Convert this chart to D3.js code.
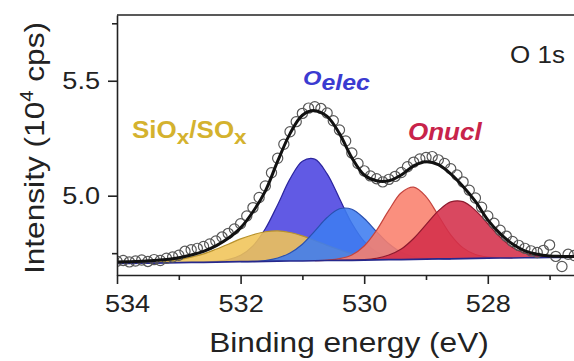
<!DOCTYPE html>
<html>
<head>
<meta charset="utf-8">
<script src="https://cdn.jsdelivr.net/npm/d3@7"></script>
<style>
  html, body { margin: 0; padding: 0; background: #fff; }
  svg { display: block; }
</style>
</head>
<body>
<svg id="chart" width="574" height="361"></svg>
<script>
// ---- O 1s spectrum: binding energy grid used by the fit (eV) ----
const fitEnergy = [534.0, 533.8, 533.6, 533.4, 533.2, 533.0, 532.8, 532.6, 532.4, 532.2,
                   532.0, 531.8, 531.6, 531.4, 531.2, 531.0, 530.8, 530.6, 530.4, 530.2,
                   530.0, 529.8, 529.6, 529.4, 529.2, 529.0, 528.8, 528.6, 528.4, 528.2,
                   528.0, 527.8, 527.6, 527.4, 527.2, 527.0, 526.8, 526.6];

// background under the fitted peaks (10^4 cps)
const background = [4.705, 4.706, 4.707, 4.707, 4.708, 4.709, 4.710, 4.710, 4.711, 4.712,
                    4.713, 4.713, 4.714, 4.715, 4.716, 4.716, 4.717, 4.718, 4.719, 4.719,
                    4.720, 4.721, 4.722, 4.722, 4.723, 4.724, 4.725, 4.725, 4.726, 4.727,
                    4.728, 4.729, 4.729, 4.730, 4.731, 4.732, 4.732, 4.733];

// fitted components, height above background (10^4 cps)
const siOxComponent = [0.000, 0.001, 0.002, 0.003, 0.007, 0.013, 0.023, 0.037, 0.056, 0.077,
                       0.099, 0.117, 0.129, 0.132, 0.124, 0.109, 0.088, 0.066, 0.046, 0.029,
                       0.018, 0.010, 0.005, 0.002, 0.001, 0, 0, 0, 0, 0,
                       0, 0, 0, 0, 0, 0, 0, 0];
const oElecComponentA = [0, 0, 0, 0, 0, 0, 0, 0.001, 0.003, 0.010,
                         0.028, 0.069, 0.142, 0.246, 0.357, 0.434, 0.442, 0.377, 0.269, 0.161,
                         0.081, 0.034, 0.012, 0.004, 0.001, 0, 0, 0, 0, 0,
                         0, 0, 0, 0, 0, 0, 0, 0];
const oElecComponentB = [0, 0, 0, 0, 0, 0, 0, 0, 0, 0,
                         0, 0.001, 0.004, 0.014, 0.035, 0.073, 0.129, 0.187, 0.224, 0.222,
                         0.181, 0.123, 0.069, 0.032, 0.012, 0.004, 0.001, 0, 0, 0,
                         0, 0, 0, 0, 0, 0, 0, 0];
const oNuclComponentA = [0, 0, 0, 0, 0, 0, 0, 0, 0, 0,
                         0, 0, 0, 0, 0, 0, 0, 0.002, 0.007, 0.023,
                         0.061, 0.128, 0.215, 0.291, 0.314, 0.272, 0.189, 0.105, 0.047, 0.017,
                         0.005, 0.001, 0, 0, 0, 0, 0, 0];
const oNuclComponentB = [0, 0, 0, 0, 0, 0, 0, 0, 0, 0,
                         0, 0, 0, 0, 0, 0, 0, 0, 0, 0.001,
                         0.002, 0.007, 0.020, 0.046, 0.091, 0.150, 0.209, 0.248, 0.248, 0.209,
                         0.150, 0.091, 0.046, 0.020, 0.007, 0.002, 0, 0];

// total fit envelope (10^4 cps)
const fitEnvelope = [4.712, 4.713, 4.715, 4.718, 4.722, 4.730, 4.742, 4.758, 4.782, 4.815,
                     4.860, 4.930, 5.020, 5.150, 5.270, 5.350, 5.370, 5.345, 5.270, 5.165,
                     5.090, 5.065, 5.065, 5.090, 5.130, 5.148, 5.135, 5.095, 5.040, 4.975,
                     4.895, 4.835, 4.790, 4.760, 4.745, 4.738, 4.736, 4.735];

// measured points
const dataEnergy = [534.0, 533.9, 533.8, 533.7, 533.6, 533.5, 533.4, 533.3, 533.2, 533.1,
                    533.0, 532.9, 532.8, 532.7, 532.6, 532.5, 532.4, 532.3, 532.2, 532.1,
                    532.0, 531.9, 531.8, 531.7, 531.6, 531.5, 531.4, 531.3, 531.2, 531.1,
                    531.0, 530.9, 530.8, 530.7, 530.6, 530.5, 530.4, 530.3, 530.2, 530.1,
                    530.0, 529.9, 529.8, 529.7, 529.6, 529.5, 529.4, 529.3, 529.2, 529.1,
                    529.0, 528.9, 528.8, 528.7, 528.6, 528.5, 528.4, 528.3, 528.2, 528.1,
                    528.0, 527.9, 527.8, 527.7, 527.6, 527.5, 527.4, 527.3, 527.2, 527.1,
                    527.0, 526.9, 526.8, 526.7, 526.6];
const dataIntensity = [4.715, 4.718, 4.712, 4.716, 4.720, 4.714, 4.722, 4.718, 4.728, 4.733,
                       4.741, 4.758, 4.765, 4.771, 4.779, 4.790, 4.803, 4.820, 4.836, 4.855,
                       4.878, 4.912, 4.948, 4.992, 5.042, 5.100, 5.163, 5.224, 5.278, 5.322,
                       5.358, 5.381, 5.387, 5.379, 5.360, 5.326, 5.286, 5.238, 5.186, 5.140,
                       5.108, 5.086, 5.074, 5.060, 5.071, 5.084, 5.101, 5.126, 5.146, 5.160,
                       5.166, 5.170, 5.156, 5.140, 5.117, 5.090, 5.060, 5.024, 4.990, 4.950,
                       4.912, 4.880, 4.850, 4.824, 4.801, 4.784, 4.771, 4.760, 4.753, 4.762,
                       4.786, 4.736, 4.692, 4.745, 4.740];

// axis ticks
const xMajorTicks = [534, 532, 530, 528];
const xMinorTicks = [533, 531, 529, 527];
const yMajorTicks = [5.0, 5.5];
const yMinorTicks = [4.75, 5.75];

// ---- drawing ----
const FONT = "'Liberation Sans', Arial, Helvetica, sans-serif";
const STRETCH = 1.13;   // slightly wide lettering
const INK = "#222";

const svg = d3.select("#chart");
svg.append("rect").attr("width", 574).attr("height", 361).attr("fill", "#fff");

const x = d3.scaleLinear().domain([534, 526.6]).range([117, 574.3]);
const y = d3.scaleLinear().domain([4.655, 5.786]).range([275, 15]);

svg.append("defs").append("clipPath").attr("id", "plot-area")
  .append("rect")
  .attr("x", x(534)).attr("y", y(5.786))
  .attr("width", x(526.6) - x(534)).attr("height", y(4.655) - y(5.786));

const plot = svg.append("g").attr("clip-path", "url(#plot-area)");

// peak components, drawn back to front
const components = [
  { values: oElecComponentA, fill: "#4b43e0", stroke: "#2b259e" },
  { values: siOxComponent,   fill: "#f0c458", stroke: "#b8922c" },
  { values: oElecComponentB, fill: "#3d7cf0", stroke: "#2a50b0" },
  { values: oNuclComponentA, fill: "#f9806c", stroke: "#c4443e" },
  { values: oNuclComponentB, fill: "#d42f4a", stroke: "#8e1a2e" }
];

function activeRange(values) {
  const first = values.findIndex(v => v > 0);
  let last = values.length - 1;
  while (last > 0 && !(values[last] > 0)) last--;
  return [Math.max(0, first - 1), Math.min(values.length - 1, last + 1)];
}

components.forEach(c => {
  const [a, b] = activeRange(c.values);
  const pts = d3.range(a, b + 1).map(i => ({
    e: fitEnergy[i], lo: background[i], hi: background[i] + c.values[i]
  }));
  const area = d3.area()
    .x(d => x(d.e)).y0(d => y(d.lo)).y1(d => y(d.hi))
    .curve(d3.curveCatmullRom);
  plot.append("path").attr("d", area(pts))
    .attr("fill", c.fill).attr("fill-opacity", 0.88);
  const edge = d3.line().x(d => x(d.e)).y(d => y(d.hi)).curve(d3.curveCatmullRom);
  plot.append("path").attr("d", edge(pts))
    .attr("fill", "none").attr("stroke", c.stroke).attr("stroke-width", 1.2);
});

// background line
plot.append("path")
  .attr("d", d3.line().x((d, i) => x(fitEnergy[i])).y(d => y(d))(background))
  .attr("fill", "none").attr("stroke", "#26288c").attr("stroke-width", 1.7);

// measured points
plot.append("g").selectAll("circle")
  .data(dataEnergy)
  .join("circle")
  .attr("cx", d => x(d))
  .attr("cy", (d, i) => y(dataIntensity[i]))
  .attr("r", 5.1)
  .attr("fill", "none")
  .attr("stroke", "#585858")
  .attr("stroke-width", 1.2);

// fit envelope
plot.append("path")
  .attr("d", d3.line().x((d, i) => x(fitEnergy[i])).y(d => y(d)).curve(d3.curveCatmullRom)(fitEnvelope))
  .attr("fill", "none").attr("stroke", "#111").attr("stroke-width", 3)
  .attr("stroke-linejoin", "round");

// ---- axes ----
function styleAxis(g) {
  g.selectAll("path.domain").attr("stroke", INK).attr("stroke-width", 1.6);
  g.selectAll(".tick line").attr("stroke", INK).attr("stroke-width", 1.6);
  g.selectAll("text").attr("font-family", FONT).attr("font-size", 24).attr("fill", INK);
}

const gx = svg.append("g")
  .attr("transform", `translate(0,${y(4.655)})`)
  .call(d3.axisBottom(x).tickValues(xMajorTicks).tickSize(9).tickSizeOuter(0)
    .tickPadding(11).tickFormat(d3.format("d")));
styleAxis(gx);
gx.selectAll(".tick text")
  .attr("transform", d => `translate(${d === 534 ? 10 : 0},0) scale(${STRETCH},1)`);

const gxMinor = svg.append("g")
  .attr("transform", `translate(0,${y(4.655)})`)
  .call(d3.axisBottom(x).tickValues(xMinorTicks).tickSize(5).tickFormat(""));
gxMinor.select("path.domain").remove();
styleAxis(gxMinor);

const gy = svg.append("g")
  .attr("transform", `translate(${x(534)},0)`)
  .call(d3.axisLeft(y).tickValues(yMajorTicks).tickSize(9).tickSizeOuter(0)
    .tickPadding(6).tickFormat(d3.format(".1f")));
styleAxis(gy);
gy.selectAll(".tick text").attr("transform", `scale(${STRETCH},1)`);

const gyMinor = svg.append("g")
  .attr("transform", `translate(${x(534)},0)`)
  .call(d3.axisLeft(y).tickValues(yMinorTicks).tickSize(5).tickFormat(""));
gyMinor.select("path.domain").remove();
styleAxis(gyMinor);

// top frame line
svg.append("line")
  .attr("x1", x(534)).attr("x2", x(526.6))
  .attr("y1", y(5.786)).attr("y2", y(5.786))
  .attr("stroke", INK).attr("stroke-width", 1.6);

// ---- titles and labels ----
function label(tx, ty, opts = {}) {
  return svg.append("text")
    .attr("transform", `translate(${tx},${ty})${opts.rotate ? ` rotate(${opts.rotate})` : ""} scale(${STRETCH},1)`)
    .attr("font-family", FONT)
    .attr("font-size", opts.size || 24)
    .attr("font-weight", opts.weight || "normal")
    .attr("font-style", opts.style || "normal")
    .attr("fill", opts.fill || INK)
    .attr("text-anchor", opts.anchor || "start");
}

label(349, 352, { size: 28, anchor: "middle" }).text("Binding energy (eV)");

const yTitle = label(44, 148, { size: 28, anchor: "middle", rotate: -90 });
yTitle.append("tspan").text("Intensity (10");
yTitle.append("tspan").attr("font-size", 18).attr("dy", -11).text("4");
yTitle.append("tspan").attr("dy", 11).text(" cps)");

label(510, 63, { size: 23 }).text("O 1s");

const siOxLabel = label(132, 138, { size: 23, weight: "bold", fill: "#d4b22e" });
siOxLabel.append("tspan").text("SiO");
siOxLabel.append("tspan").attr("font-size", 20).attr("dy", 6).text("x");
siOxLabel.append("tspan").attr("dy", -6).text("/SO");
siOxLabel.append("tspan").attr("font-size", 20).attr("dy", 6).text("x");

const elecLabel = label(303, 85, { size: 21, weight: "bold", style: "italic", fill: "#3b3bd1" });
elecLabel.append("tspan").text("O");
elecLabel.append("tspan").attr("font-size", 22).attr("dy", 5).text("elec");

label(408, 140, { size: 23, weight: "bold", style: "italic", fill: "#c8234a" }).text("Onucl");
</script>
</body>
</html>
